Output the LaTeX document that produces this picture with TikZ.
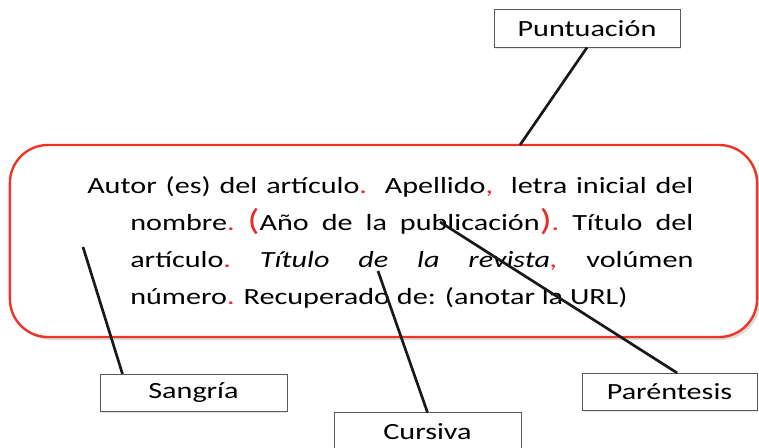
\documentclass[tikz,border=0pt]{standalone}
\usepackage{fontspec}
\setmainfont{Carlito}[FakeStretch=1.3]
\usetikzlibrary{shadows}
\definecolor{punred}{RGB}{236,40,40}
\definecolor{framered}{RGB}{238,52,38}
\newcommand{\rp}[1]{\textcolor{punred}{#1}}
\newcommand{\bigrp}[1]{\textcolor{punred}{\fontsize{21.5}{26.3}\selectfont #1}}

\begin{document}
\begin{tikzpicture}[x=0.025cm,y=-0.025cm,
  tag/.style={draw=black!65,line width=0.6pt,fill=white,minimum height=0.93cm,
    font=\fontsize{16.5}{19}\selectfont,
    drop shadow={opacity=0.2,shadow xshift=1pt,shadow yshift=-1pt}},
  pointer/.style={line width=1.9pt,black!90}]
  \useasboundingbox (0,0) rectangle (759,448);
  % --- reference frame
  \node[draw=framered,line width=1.7pt,fill=white,rounded corners=0.95cm,
    minimum width=18.675cm,minimum height=4.8cm,
    drop shadow={opacity=0.3,shadow xshift=2pt,shadow yshift=-2pt}] (frame) at (383.5,241) {};
  \node[anchor=north west,inner sep=0pt,text width=15.15cm,align=justify,
    font=\fontsize{16.5}{26.3}\selectfont] (ref) at (87,176.5) {\hangindent=1.075cm\hangafter=1
    Autor (es) del artículo\rp{.}\ \ Apellido\rp{,}\ \ letra inicial del\linebreak
    nombre\rp{.}\ \bigrp{(}Año de la publicación\bigrp{)}\rp{.}\ Título del\linebreak
    artículo\rp{.}\ \textit{Título de la revista\rp{,}}\ volúmen\linebreak
    número\rp{.} Recuperado de: (anotar la URL)\par};
  % --- labels
  \node[tag,minimum width=4.65cm] (punt) at (587,28.5) {Puntuación};
  \node[tag,minimum width=4.675cm] (sang) at (193.5,393) {Sangría};
  \node[tag,minimum width=4.675cm] (curs) at (427.5,431.5) {Cursiva};
  \node[tag,minimum width=4.375cm] (par) at (669.5,392) {Paréntesis};
  % --- pointers
  \coordinate (puntmark) at (520,145);
  \coordinate (sangmark) at (83,247);
  \coordinate (cursmark) at (378,271);
  \coordinate (parmark) at (440,222);
  \draw[pointer] (punt.south) -- (puntmark);
  \draw[pointer] (sangmark) -- (sang.165);
  \draw[pointer] (cursmark) -- (curs.north);
  \draw[pointer] (parmark) -- (par.68);
\end{tikzpicture}
\end{document}
